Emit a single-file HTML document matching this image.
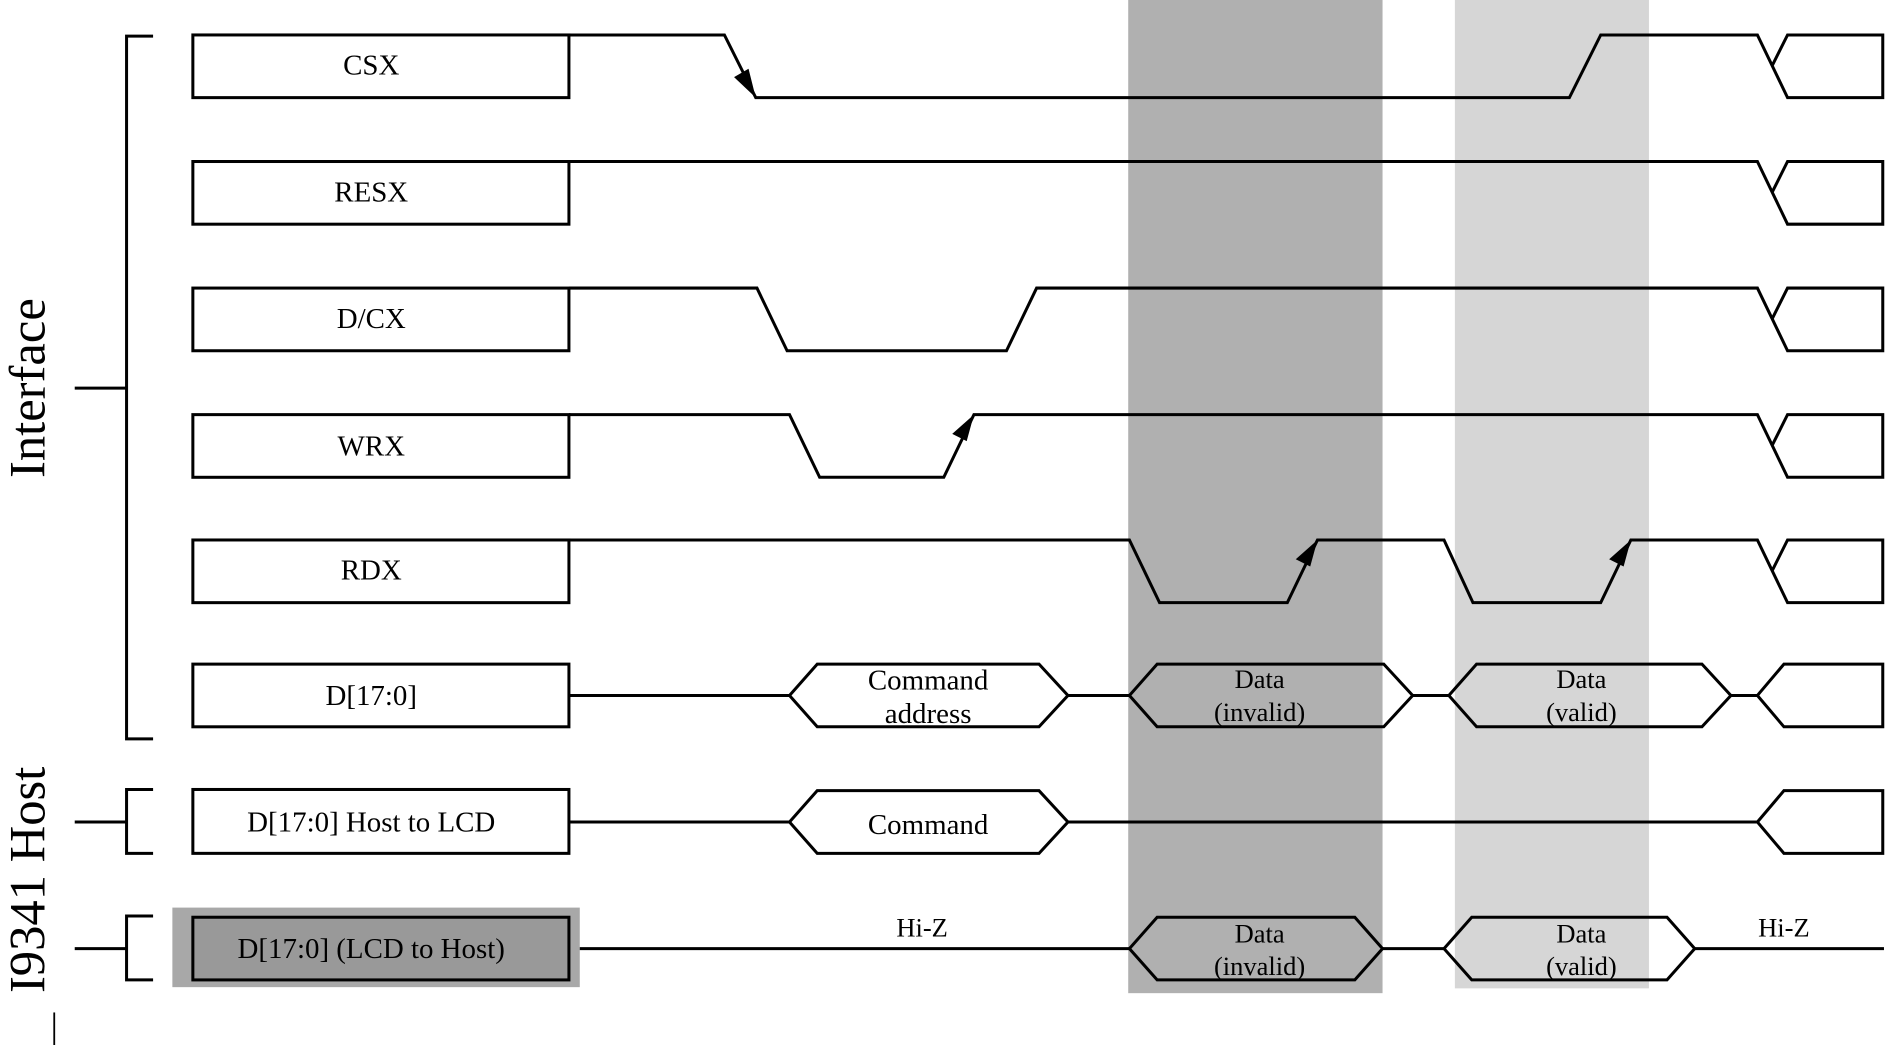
<!DOCTYPE html>
<html><head><meta charset="utf-8"><style>
html,body{margin:0;padding:0;background:#fff;}
svg{display:block}
text{font-family:"Liberation Serif",serif;fill:#000}
</style></head><body>
<svg width="1890" height="1045" viewBox="0 0 1568 867" preserveAspectRatio="none" xmlns="http://www.w3.org/2000/svg">
<rect x="936" y="0" width="211" height="824" fill="#b0b0b0"/>
<rect x="1207" y="0" width="161" height="820" fill="#d6d6d6"/>
<rect x="143" y="753" width="338" height="66" fill="#a8a8a8"/>
<g fill="none" stroke="#000" stroke-width="2.5">
<!-- brackets -->
<path d="M127 30 H105 V613 H127 M62 322 H105"/>
<path d="M127 655 H105 V708 H127 M62 682 H105"/>
<path d="M127 760 H105 V813 H127 M62 787 H105"/>
<path d="M45 840 V867" stroke-width="1.5"/>
<!-- label boxes -->
<rect x="160" y="29" width="312" height="52" fill="#fff"/>
<rect x="160" y="134" width="312" height="52" fill="#fff"/>
<rect x="160" y="239" width="312" height="52" fill="#fff"/>
<rect x="160" y="344" width="312" height="52" fill="#fff"/>
<rect x="160" y="448" width="312" height="52" fill="#fff"/>
<rect x="160" y="551" width="312" height="52" fill="#fff"/>
<rect x="160" y="655" width="312" height="53" fill="#fff"/>
<rect x="160" y="761" width="312" height="52" fill="#999"/>
<!-- CSX -->
<path d="M472 29 H601 L627 81 H1302 L1328 29 H1458 L1483 81 H1562 V29 H1483 L1470 55"/>
<!-- RESX -->
<path d="M472 134 H1458 L1483 186 H1562 V134 H1483 L1470 160"/>
<!-- D/CX -->
<path d="M472 239 H628 L653 291 H835 L860 239 H1458 L1483 291 H1562 V239 H1483 L1470 265"/>
<!-- WRX -->
<path d="M472 344 H655 L680 396 H783 L808 344 H1458 L1483 396 H1562 V344 H1483 L1470 370"/>
<!-- RDX -->
<path d="M472 448 H937 L962 500 H1068 L1093 448 H1198 L1222 500 H1328 L1353 448 H1458 L1483 500 H1562 V448 H1483 L1470 474"/>
<!-- D[17:0] -->
<path d="M472 577 H655 M886 577 H937 M1172 577 H1202 M1436 577 H1458"/>
<path d="M655 577 L678 551 H862 L886 577 L862 603 H678 Z" fill="#fff"/>
<path d="M937 577 L960 551 H1148 L1172 577 L1148 603 H960 Z"/>
<path d="M1202 577 L1225 551 H1412 L1436 577 L1412 603 H1225 Z"/>
<path d="M1458 577 L1480 551 H1562 V603 H1480 Z"/>
<!-- Host to LCD -->
<path d="M472 682 H655 M886 682 H1458"/>
<path d="M655 682 L678 656 H862 L886 682 L862 708 H678 Z" fill="#fff"/>
<path d="M1458 682 L1480 656 H1562 V708 H1480 Z"/>
<!-- LCD to Host -->
<path d="M481 787 H937 M1147 787 H1198 M1406 787 H1563"/>
<path d="M937 787 L960 761 H1124 L1147 787 L1124 813 H960 Z"/>
<path d="M1198 787 L1221 761 H1383 L1406 787 L1383 813 H1221 Z"/>
</g>
<!-- arrowheads -->
<g fill="#000">
<polygon points="627,81 609,64 621,57"/>
<polygon points="808,344 790,360 802,366"/>
<polygon points="1093,448 1075,464 1087,470"/>
<polygon points="1353,448 1335,464 1347,470"/>
</g>
<g font-size="24" text-anchor="middle">
<text x="308" y="62">CSX</text>
<text x="308" y="167">RESX</text>
<text x="308" y="272">D/CX</text>
<text x="308" y="378">WRX</text>
<text x="308" y="481">RDX</text>
<text x="308" y="585">D[17:0]</text>
<text x="308" y="690">D[17:0] Host to LCD</text>
<text x="308" y="795">D[17:0] (LCD to Host)</text>
<text x="770" y="572">Command</text>
<text x="770" y="600">address</text>
<text x="1045" y="571" font-size="22">Data</text>
<text x="1045" y="598" font-size="22">(invalid)</text>
<text x="1312" y="571" font-size="22">Data</text>
<text x="1312" y="598" font-size="22">(valid)</text>
<text x="770" y="692">Command</text>
<text x="1045" y="782" font-size="22">Data</text>
<text x="1045" y="809" font-size="22">(invalid)</text>
<text x="1312" y="782" font-size="22">Data</text>
<text x="1312" y="809" font-size="22">(valid)</text>
<text x="765" y="777" font-size="22">Hi-Z</text>
<text x="1480" y="777" font-size="22">Hi-Z</text>
</g>
<text font-size="42" text-anchor="middle" transform="translate(37,322) rotate(-90)">Interface</text>
<text font-size="42" text-anchor="middle" transform="translate(37,730) rotate(-90)">I9341 Host</text>
</svg>
</body></html>
